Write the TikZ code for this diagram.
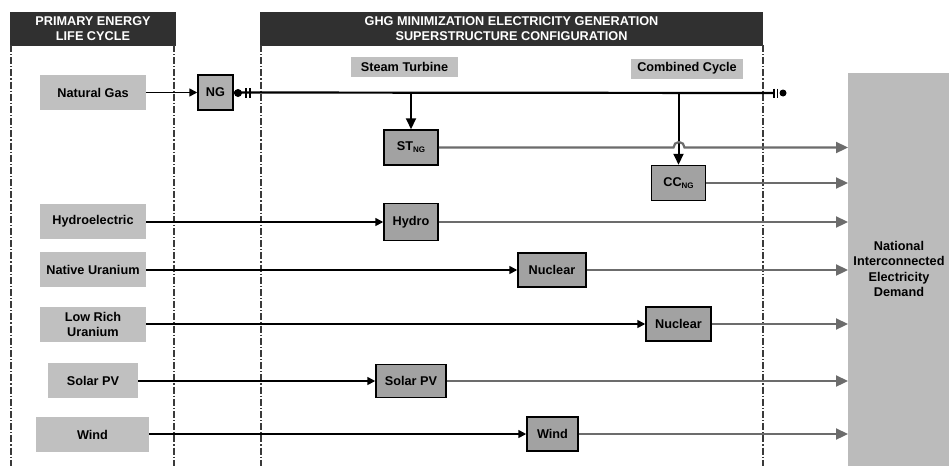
\documentclass[tikz,border=0pt]{standalone}
\usepackage{fontspec}
\setmainfont{Liberation Sans}
\usetikzlibrary{arrows.meta}
\definecolor{hdr}{HTML}{303030}
\definecolor{srcfill}{HTML}{C0C0C0}
\definecolor{procfill}{HTML}{A2A2A2}
\definecolor{ngfill}{HTML}{B0B0B0}
\definecolor{demfill}{HTML}{BBBBBB}
\definecolor{outline}{HTML}{6C6C6C}
\definecolor{dashc}{HTML}{3A3A3A}
\newcommand{\subNG}{\raisebox{-2pt}{\fontsize{8}{8}\selectfont NG}}
\begin{document}
\begin{tikzpicture}[x=1pt,y=-1pt,
  every node/.style={font=\fontsize{12.7}{15.5}\selectfont\bfseries, inner sep=0pt},
  header/.style={fill=hdr, text=white, align=center},
  src/.style={fill=srcfill, align=center},
  proc/.style={fill=procfill, draw=black, line width=1.5pt},
  lbl/.style={fill=srcfill},
  sep/.style={draw=dashc, line width=1.2pt, dash pattern=on 7pt off 2pt on 1.2pt off 2pt},
  inarrow/.style={draw=black, line width=1.6pt, -{Triangle[length=8pt,width=8pt]}},
  outarrow/.style={draw=outline, line width=2.2pt, -{Triangle[length=12pt,width=11pt]}},
  busarrow/.style={draw=black, line width=2pt, -{Triangle[length=11pt,width=10pt]}}
]
\useasboundingbox (0,0) rectangle (949,466);

% headers
\node[header, minimum width=166pt, minimum height=34pt] (h1) at (93,28.5) {PRIMARY ENERGY\\LIFE CYCLE};
\node[header, minimum width=503pt, minimum height=34pt] (h2) at (511.5,28.5) {GHG MINIMIZATION ELECTRICITY GENERATION\\SUPERSTRUCTURE CONFIGURATION};

% separators
\draw[sep] (11,45) -- (11,466);
\draw[sep] (174,45) -- (174,466);
\draw[sep] (261,45) -- (261,466);
\draw[sep] (763,45) -- (763,466);

% demand
\node[fill=demfill, minimum width=101pt, minimum height=393pt, anchor=north west] (dem) at (848,73) {};
\node[align=center] (demtxt) at (899,269) {National\\Interconnected\\Electricity\\Demand};

% source boxes
\node[src, minimum width=106pt, minimum height=35pt] (sng) at (93,92.5) {Natural Gas};
\node[src, minimum width=106pt, minimum height=35pt] (shy) at (93,221.5) {Hydroelectric};
\node[src, minimum width=106pt, minimum height=35pt] (snu) at (93,269.5) {Native Uranium};
\node[src, minimum width=106pt, minimum height=35pt] (slr) at (93,324.5) {Low Rich\\Uranium};
\node[src, minimum width=90pt, minimum height=35pt] (ssp) at (93,380.5) {Solar PV};
\node[src, minimum width=113pt, minimum height=35pt] (swi) at (92.5,434.5) {Wind};

% labels
\node[lbl, minimum width=107pt, minimum height=20pt] (lst) at (404.5,67) {Steam Turbine};
\node[lbl, minimum width=112pt, minimum height=20pt] (lcc) at (687,68.5) {Combined Cycle};

% NG box
\node[fill=ngfill, draw=black, line width=1.5pt, minimum width=35pt, minimum height=35pt] (ng) at (215.5,92.5) {NG};

% process boxes
\node[proc, minimum width=54pt, minimum height=35pt] (st) at (411,147.5) {ST\subNG};
\node[proc, minimum width=54pt, minimum height=35pt] (cc) at (678.5,183) {CC\subNG};
\node[proc, minimum width=54pt, minimum height=37pt] (hy) at (411,222) {Hydro};
\node[proc, minimum width=68pt, minimum height=34pt] (nu1) at (552,270) {Nuclear};
\node[proc, minimum width=65pt, minimum height=34pt] (nu2) at (678.5,324) {Nuclear};
\node[proc, minimum width=70pt, minimum height=33pt] (sp) at (411,381) {Solar PV};
\node[proc, minimum width=51pt, minimum height=34pt] (wi) at (552.5,434) {Wind};

% bus
\coordinate (busR) at (773,93);
\draw[black, line width=2.2pt] (ng.east) -- (busR);
\fill[black] (238,93) circle (4pt);
\draw[black, line width=1.5pt] (246,88) -- (246,98) (250,88) -- (250,98);
\draw[black, line width=1.5pt] (774,88.5) -- (774,97.5) (777.5,88.5) -- (777.5,97.5);
\fill[black] (783,93) circle (3.5pt);

% inputs
\draw[inarrow] (sng) -- (ng);
\draw[inarrow] (shy.east |- hy.west) -- (hy);
\draw[inarrow] (snu.east |- nu1.west) -- (nu1);
\draw[inarrow] (slr.east |- nu2.west) -- (nu2);
\draw[inarrow] (ssp.east |- sp.west) -- (sp);
\draw[inarrow] (swi.east |- wi.west) -- (wi);

% bus drops
\draw[busarrow] (st.north |- ng.east) -- (st.north);
\draw[busarrow] (cc.north |- ng.east) -- (cc.north);

% outputs
\draw[outarrow] (st.east) -- (673.5,147.5) arc[start angle=180, end angle=0, radius=5.5pt] -- (dem.west |- st.east);
\draw[outarrow] (cc.east) -- (dem.west |- cc.east);
\draw[outarrow] (hy.east) -- (dem.west |- hy.east);
\draw[outarrow] (nu1.east) -- (dem.west |- nu1.east);
\draw[outarrow] (nu2.east) -- (dem.west |- nu2.east);
\draw[outarrow] (sp.east) -- (dem.west |- sp.east);
\draw[outarrow] (wi.east) -- (dem.west |- wi.east);
\end{tikzpicture}
\end{document}
